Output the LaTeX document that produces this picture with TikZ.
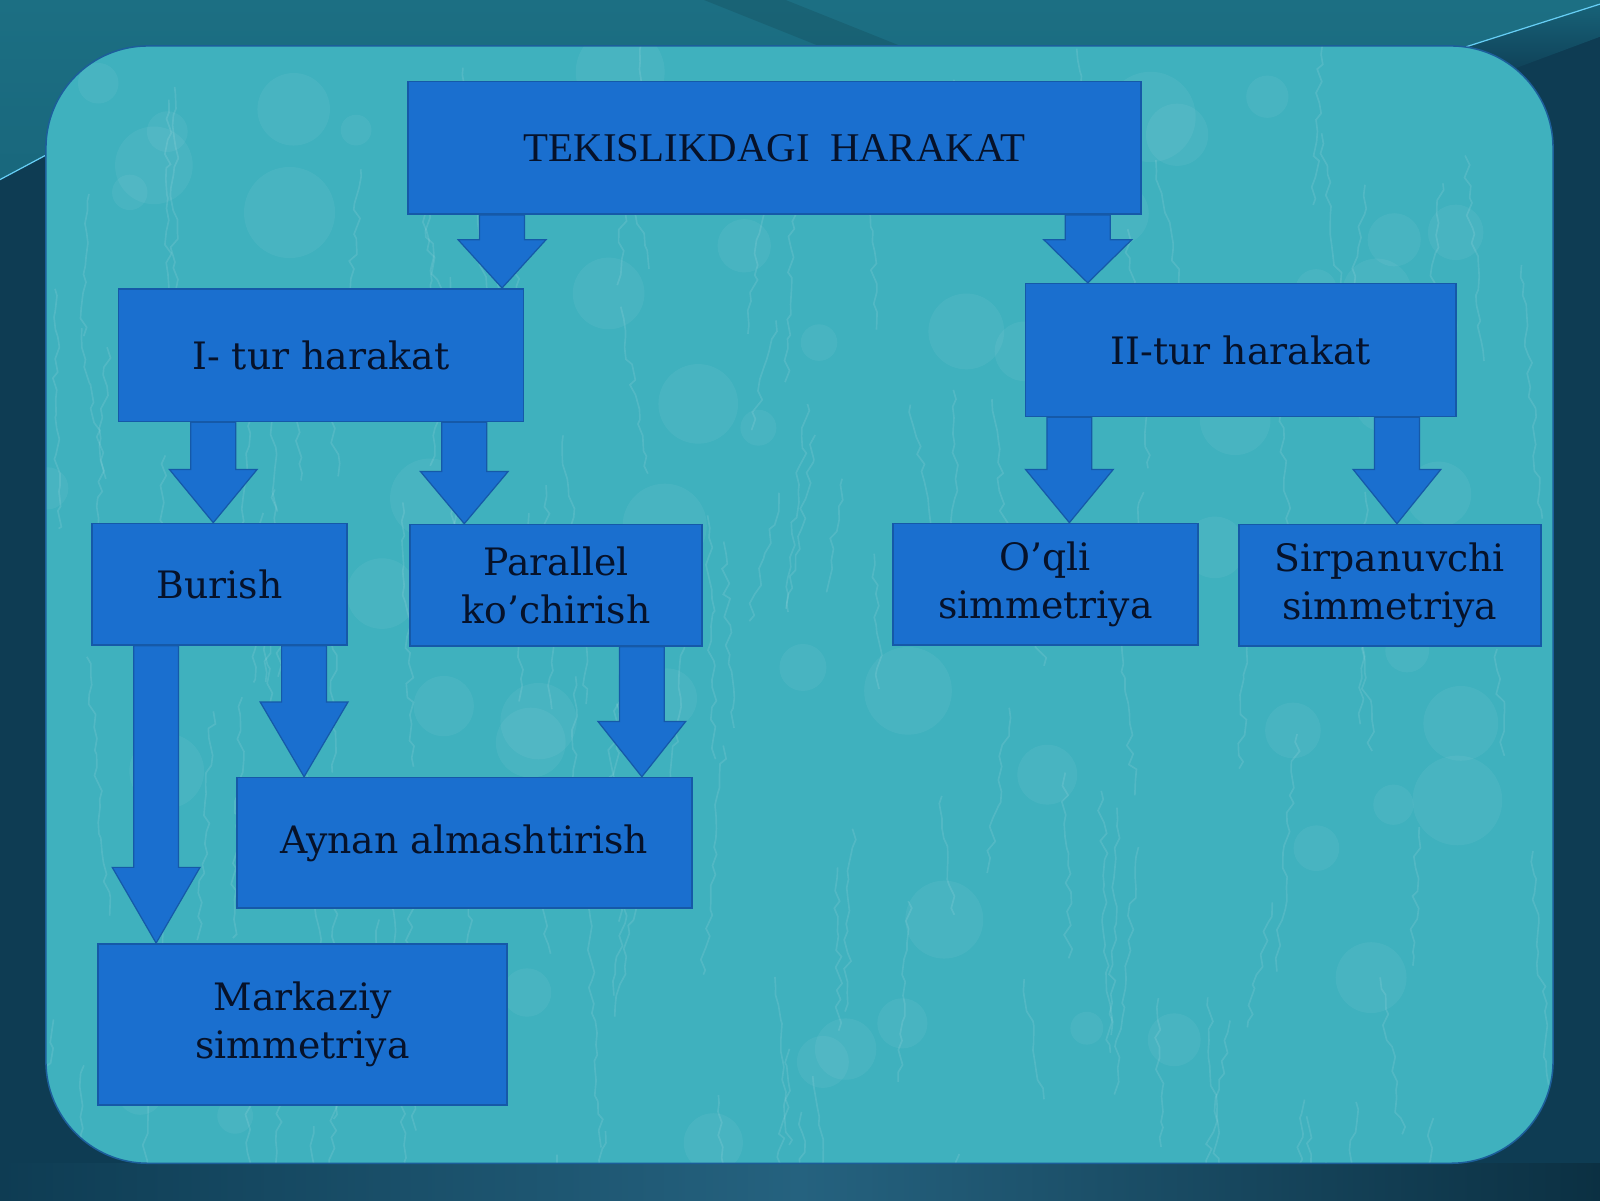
\documentclass[tikz,border=0pt]{standalone}
\usepackage{fontspec}
\setmainfont{DejaVu Serif}
\newfontfamily\titlefont{Liberation Serif}
\usetikzlibrary{calc,decorations.pathmorphing}
\definecolor{boxblue}{HTML}{1A6FCF}
\definecolor{boxedge}{HTML}{1559A8}
\definecolor{panelc}{HTML}{3FB1BE}
\definecolor{paneledge}{HTML}{1C5E9A}
\definecolor{bgtop}{HTML}{1C6F83}
\definecolor{bgmid}{HTML}{176278}
\definecolor{bgdark}{HTML}{0E3C53}
\definecolor{bgband}{HTML}{25627F}
\definecolor{txt}{HTML}{06122A}
\tikzset{
  box/.style={draw=boxedge, line width=1.6pt, fill=boxblue, text=txt, align=center,
    inner sep=0pt, font=\fontsize{37}{47}\selectfont},
  arrowshape/.style={draw=boxedge, line width=1.2pt, fill=boxblue, line join=miter},
  streak/.style={white, opacity=0.10, line width=1.6pt, decorate,
    decoration={random steps, segment length=10pt, amplitude=4pt}},
}
% #1 source node, #2 target node, #3 x of arrow axis, #4 y where head begins
\newcommand\blockarrow[4]{%
  \path[arrowshape] (#3-22,0 |- #1.south) -- (#3+22,0 |- #1.south) -- (#3+22,#4)
    -- (#3+43,#4) -- (#3,0 |- #2.north) -- (#3-43,#4) -- (#3-22,#4) -- cycle;}
\begin{document}
\begin{tikzpicture}[x=1pt,y=-1pt]
\useasboundingbox (0,0) rectangle (1568,1176);
% background
\fill[bgdark] (0,0) rectangle (1568,1176);
\shade[top color=bgtop, bottom color=bgmid]
  (0,0) -- (1568,0) -- (1568,4) -- (1430,48) -- (1400,300) -- (120,300) -- (45,152) -- (0,176) -- cycle;
\shade[top color=bgmid, bottom color=bgdark]
  (1568,4) -- (1430,48) -- (1450,80) -- (1568,36) -- cycle;
\fill[black, opacity=0.10] (690,0) -- (770,0) -- (890,48) -- (810,48) -- cycle;
\draw[cyan!60!white, line width=1.2pt] (0,176) -- (45,152);
\draw[cyan!60!white, line width=1.2pt] (1430,48) -- (1568,4);
\shade[left color=bgdark, right color=bgdark!80!black, middle color=bgband]
  (0,1140) rectangle (1568,1176);
% panel
\fill[panelc, rounded corners=100pt] (45,45) rectangle (1522,1140);
\begin{scope}
  \clip[rounded corners=100pt] (45,45) rectangle (1522,1140);
  \pgfmathsetseed{7}
  \foreach \i in {1,...,130} {
    \pgfmathsetmacro\xa{45+rnd*1480}
    \pgfmathsetmacro\ya{30+rnd*1110}
    \pgfmathsetmacro\dx{rnd*60-30}
    \pgfmathsetmacro\dy{100+rnd*160}
    \draw[streak] (\xa,\ya) -- ++(\dx,\dy);
  }
  \foreach \i in {1,...,70} {
    \pgfmathsetmacro\xa{45+rnd*1480}
    \pgfmathsetmacro\ya{45+rnd*1100}
    \pgfmathsetmacro\rr{15+rnd*30}
    \fill[white, opacity=0.05] (\xa,\ya) circle (\rr);
  }
\end{scope}
\draw[paneledge, line width=1.5pt, rounded corners=100pt] (45,45) rectangle (1522,1140);
% boxes
\node[box, minimum width=718pt, minimum height=130pt,
  font=\titlefont\fontsize{40}{48}\selectfont] (top) at (759,145) {TEKISLIKDAGI\ \ HARAKAT};
\node[box, minimum width=397pt, minimum height=130pt] (t1) at (314.5,348) {I- tur harakat};
\node[box, minimum width=422pt, minimum height=130pt] (t2) at (1216,343) {II-tur harakat};
\node[box, minimum width=250pt, minimum height=119pt] (burish) at (215,572.5) {Burish};
\node[box, minimum width=286pt, minimum height=119pt] (parallel) at (545,573.5) {Parallel\\ko’chirish};
\node[box, minimum width=299pt, minimum height=119pt] (oqli) at (1024.5,572.5) {O’qli\\simmetriya};
\node[box, minimum width=296pt, minimum height=119pt] (sirp) at (1362,573.5) {Sirpanuvchi\\simmetriya};
\node[box, minimum width=446pt, minimum height=128pt] (aynan) at (455,826) {Aynan almashtirish};
\node[box, minimum width=401pt, minimum height=158pt] (markaziy) at (296.5,1004) {Markaziy\\simmetriya};
% arrows
\blockarrow{top}{t1}{492}{235}
\blockarrow{top}{t2}{1066}{235}
\blockarrow{t1}{burish}{209}{460}
\blockarrow{t1}{parallel}{455}{462}
\blockarrow{t2}{oqli}{1048}{460}
\blockarrow{t2}{sirp}{1369}{460}
\blockarrow{burish}{markaziy}{153}{850}
\blockarrow{burish}{aynan}{298}{688}
\blockarrow{parallel}{aynan}{629}{707}
\end{tikzpicture}
\end{document}
